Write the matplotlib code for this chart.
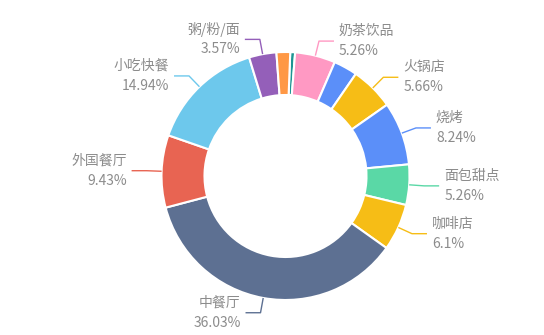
import numpy as np
import matplotlib.pyplot as plt

plt.rcParams['font.family'] = ['Noto Sans CJK SC', 'DejaVu Sans']

# Data (clockwise from the top), unlabeled small slices have no name
names = ['', '奶茶饮品', '', '火锅店', '烧烤', '面包甜点', '咖啡店',
         '中餐厅', '外国餐厅', '小吃快餐', '粥/粉/面', '']
shares = [0.63, 5.26, 3.10, 5.66, 8.24, 5.26, 6.1,
          36.03, 9.43, 14.94, 3.57, 1.78]
colors = ['#1E9493', '#FF99C3', '#5B8FF9', '#F6BD16', '#5B8FF9', '#5AD8A6',
          '#F6BD16', '#5D7092', '#E86452', '#6DC8EC', '#945FB9', '#FF9845']

W, H = 544, 335
cx, cy = 285.5, H - 176
r_out, r_in = 124, 81
start = 87.8

fig = plt.figure(figsize=(W / 100, H / 100), dpi=100)
ax = fig.add_axes([0, 0, 1, 1])
ax.pie(shares, colors=colors, startangle=start, counterclock=False,
       radius=r_out, center=(cx, cy),
       wedgeprops=dict(width=r_out - r_in, edgecolor='white', linewidth=1.5))

# ----- labels with two-segment leader lines
total = sum(shares)
ang = start
for name, v, c in zip(names, shares, colors):
    span = 360 * v / total
    mid = np.radians(ang - span / 2)
    ang -= span
    if not name:
        continue
    dx, dy = np.cos(mid), np.sin(mid)
    x0, y0 = cx + r_out * dx, cy + r_out * dy
    x1, y1 = cx + (r_out + 15) * dx, cy + (r_out + 15) * dy
    side = 1 if dx > 0 else -1
    x2 = x1 + side * 15
    ax.plot([x0, x1, x2], [y0, y1, y1], color=c, lw=1, solid_capstyle='butt')
    ha = 'left' if side > 0 else 'right'
    tx = x2 + side * 5
    ax.text(tx, y1 + 10, name, ha=ha, va='center', fontsize=10, color='#8c8c8c')
    ax.text(tx, y1 - 10, f'{v:g}%', ha=ha, va='center', fontsize=10, color='#8c8c8c')

ax.set_xlim(0, W)
ax.set_ylim(0, H)
ax.set_aspect('auto')
ax.axis('off')
fig.savefig('out.png', dpi=100)
